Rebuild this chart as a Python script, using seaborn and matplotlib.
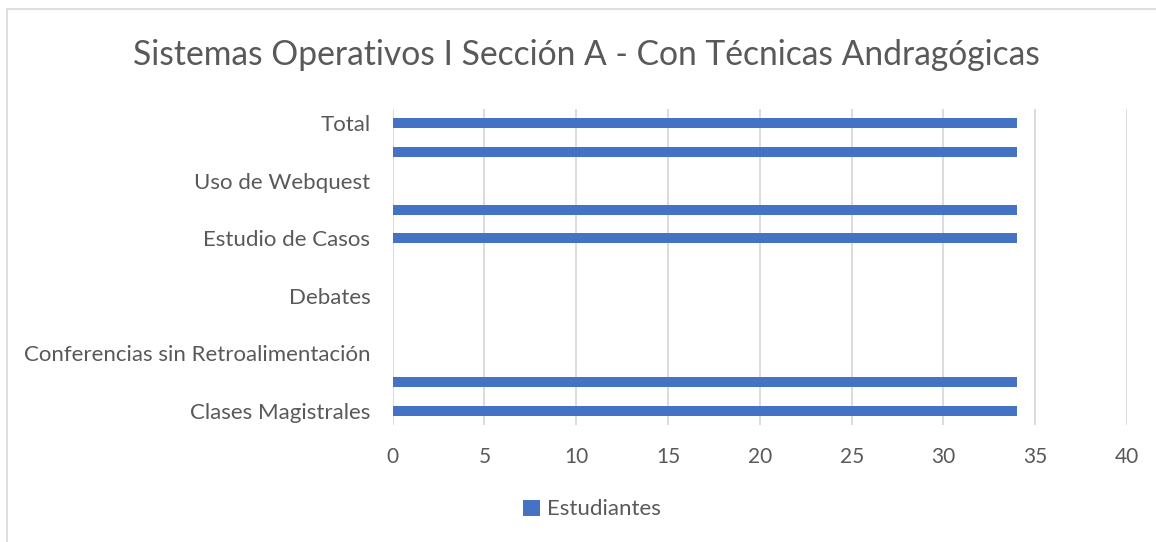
import pandas as pd
import matplotlib.pyplot as plt
import seaborn as sns
from matplotlib.patches import Rectangle

# data (top to bottom, as drawn)
categorias = ["Total", "Aprendizaje Basado en Problemas", "Uso de Webquest",
              "Trabajo Colaborativo", "Estudio de Casos", "Exposiciones",
              "Debates", "Conferencias con Retroalimentación",
              "Conferencias sin Retroalimentación", "Clases Prácticas",
              "Clases Magistrales"]
estudiantes = [34, 34, 0, 34, 34, 0, 0, 0, 0, 34, 34]
# Excel only shows every other label
etiquetas = ["Total", "", "Uso de Webquest", "", "Estudio de Casos", "",
             "Debates", "", "Conferencias sin Retroalimentación", "",
             "Clases Magistrales"]
x_ticks = [0, 5, 10, 15, 20, 25, 30, 35, 40]

df = pd.DataFrame({"categoria": categorias, "Estudiantes": estudiantes})

sns.set_style("white")
plt.rcParams['font.family'] = ['Lato', 'DejaVu Sans']
gris = "#595959"

fig = plt.figure(figsize=(11.56, 5.42), dpi=100)
ax = fig.add_axes([0.3397, 0.2159, 0.6353, 0.5830])

sns.barplot(data=df, y="categoria", x="Estudiantes", color="#4472C4",
            saturation=1, orient="h", width=0.35, linewidth=0, ax=ax,
            label="Estudiantes")

ax.set_xlim(0, 40)
ax.set_ylim(len(categorias) - 0.5, -0.5)
ax.set_xticks(x_ticks)
ax.set_xticklabels([str(t) for t in x_ticks], fontsize=15, color=gris)
ax.set_yticks(range(len(categorias)))
ax.set_yticklabels(etiquetas, fontsize=16, color=gris)
ax.tick_params(axis="x", length=0, pad=16)
ax.tick_params(axis="y", length=0, pad=16)
ax.set_xlabel("")
ax.set_ylabel("")
ax.xaxis.grid(True, color="#D9D9D9", linewidth=1.3)
ax.set_axisbelow(True)
for s in ax.spines.values():
    s.set_visible(False)

fig.text(0.5074, 0.898, "Sistemas Operativos I Sección A - Con Técnicas Andragógicas",
         ha="center", va="center", fontsize=24.2, color=gris)

leg = ax.legend(loc="center", bbox_to_anchor=(0.512, 0.06),
                bbox_transform=fig.transFigure, frameon=False,
                fontsize=16, handlelength=0.75, handleheight=0.75,
                handletextpad=0.3, labelcolor=gris)

# chart border
fig.patches.append(Rectangle((7 / 1156, -0.05), 1.1, 1 - 9 / 542 + 0.05,
                             transform=fig.transFigure, fill=False,
                             edgecolor="#D9D9D9", linewidth=1.2))

plt.savefig("out.png", dpi=100)
